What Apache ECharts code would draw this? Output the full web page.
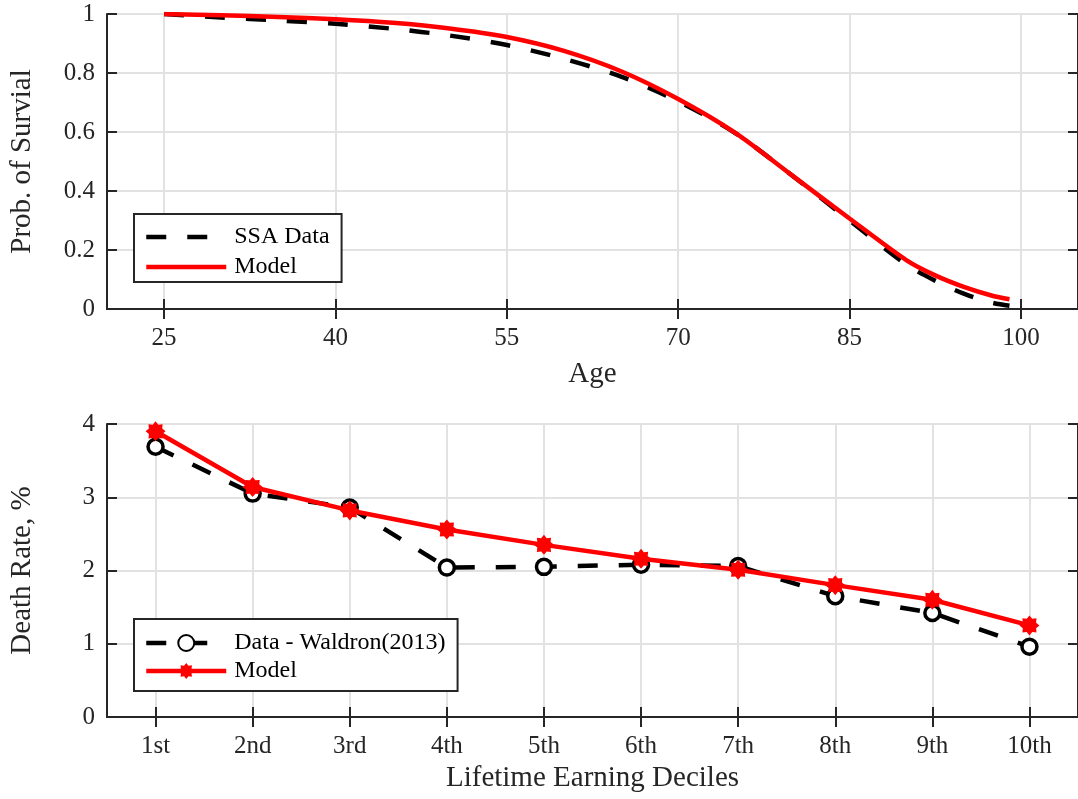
<!DOCTYPE html>
<html><head><meta charset="utf-8">
<script src="https://cdn.jsdelivr.net/npm/echarts@6/dist/echarts.min.js"></script>
<style>html,body{margin:0;padding:0;background:#fff}#c{width:1078px;height:799px}</style>
</head><body><div id="c"></div>
<script>
// ---- Top panel: survival probability by age ----
const ages      = [25, 30, 35, 40, 45, 50, 55, 60, 65, 70, 75, 80, 85, 90, 92.5, 95, 97.5, 99];
const ssaData   = [1.000, 0.988, 0.978, 0.967, 0.950, 0.927, 0.895, 0.848, 0.788, 0.704, 0.596, 0.452, 0.300, 0.150, 0.096, 0.052, 0.021, 0.011];
const modelSurv = [1.000, 0.996, 0.990, 0.982, 0.970, 0.951, 0.922, 0.875, 0.806, 0.712, 0.597, 0.452, 0.307, 0.165, 0.114, 0.075, 0.045, 0.033];
const ageTicks  = [25, 40, 55, 70, 85, 100];

// ---- Bottom panel: death rate by lifetime earning decile ----
const deciles    = ['1st', '2nd', '3rd', '4th', '5th', '6th', '7th', '8th', '9th', '10th'];
const waldron    = [3.69, 3.05, 2.86, 2.04, 2.05, 2.08, 2.06, 1.65, 1.42, 0.96];
const deathModel = [3.90, 3.14, 2.82, 2.56, 2.35, 2.16, 2.01, 1.80, 1.60, 1.25];
const decileIdx  = [1, 2, 3, 4, 5, 6, 7, 8, 9, 10];

const FONT = 'Liberation Serif';
const AX = '#262626';
const GRID = '#e2e2e2';
const TICK_FS = 25;
const NAME_FS = 29;
const LEG_FS = 24;

function starPath(n, R, r) {
  let d = '';
  for (let i = 0; i < 2 * n; i++) {
    const a = Math.PI * i / n - Math.PI / 2;
    const rad = i % 2 === 0 ? R : r;
    const x = 50 + rad * Math.cos(a), y = 50 + rad * Math.sin(a);
    d += (i === 0 ? 'M' : 'L') + x.toFixed(2) + ' ' + y.toFixed(2) + ' ';
  }
  return 'path://' + d + 'Z';
}
const STAR = starPath(8, 50, 36);

const chart = echarts.init(document.getElementById('c'), null, {renderer: 'canvas'});

const tickLabel = {color: AX, fontFamily: FONT, fontSize: TICK_FS};
const nameStyle = {color: AX, fontFamily: FONT, fontSize: NAME_FS};
const axisLine = {show: true, lineStyle: {color: AX, width: 2}};
const axisTickIn = {show: true, inside: true, length: 10, lineStyle: {color: AX, width: 2}};
const splitLine = {show: true, lineStyle: {color: GRID, width: 2}};

const option = {
  animation: false,
  backgroundColor: '#fff',
  grid: [
    {left: 107, top: 14, width: 978, height: 295, containLabel: false},
    {left: 107, top: 424, width: 978, height: 293, containLabel: false}
  ],
  xAxis: [
    {gridIndex: 0, type: 'value', min: 20, max: 105, position: 'bottom',
     name: 'Age', nameLocation: 'middle', nameGap: 51, nameTextStyle: nameStyle,
     axisLine: axisLine, axisTick: Object.assign({}, axisTickIn, {customValues: ageTicks}),
     axisLabel: Object.assign({}, tickLabel, {margin: 17, customValues: ageTicks}),
     splitLine: splitLine},
    {gridIndex: 0, type: 'value', min: 20, max: 105, position: 'top',
     axisLine: axisLine, axisTick: Object.assign({}, axisTickIn, {customValues: ageTicks}),
     axisLabel: {show: false}, splitLine: {show: false}},
    {gridIndex: 1, type: 'value', min: 0.5, max: 10.5, position: 'bottom',
     name: 'Lifetime Earning Deciles', nameLocation: 'middle', nameGap: 47, nameTextStyle: nameStyle,
     axisLine: axisLine, axisTick: Object.assign({}, axisTickIn, {customValues: decileIdx}),
     axisLabel: Object.assign({}, tickLabel, {margin: 17, customValues: decileIdx,
       formatter: v => deciles[Math.round(v) - 1] || ''}),
     splitLine: splitLine},
    {gridIndex: 1, type: 'value', min: 0.5, max: 10.5, position: 'top',
     axisLine: axisLine, axisTick: Object.assign({}, axisTickIn, {customValues: decileIdx}),
     axisLabel: {show: false}, splitLine: {show: false}}
  ],
  yAxis: [
    {gridIndex: 0, type: 'value', min: 0, max: 1, interval: 0.2, position: 'left',
     name: 'Prob. of Survial', nameLocation: 'middle', nameGap: 70, nameRotate: 90, nameTextStyle: nameStyle,
     axisLine: axisLine, axisTick: axisTickIn,
     axisLabel: Object.assign({}, tickLabel, {margin: 12}), splitLine: splitLine},
    {gridIndex: 0, type: 'value', min: 0, max: 1, interval: 0.2, position: 'right',
     axisLine: axisLine, axisTick: axisTickIn, axisLabel: {show: false}, splitLine: {show: false}},
    {gridIndex: 1, type: 'value', min: 0, max: 4, interval: 1, position: 'left',
     name: 'Death Rate, %', nameLocation: 'middle', nameGap: 70, nameRotate: 90, nameTextStyle: nameStyle,
     axisLine: axisLine, axisTick: axisTickIn,
     axisLabel: Object.assign({}, tickLabel, {margin: 12}), splitLine: splitLine},
    {gridIndex: 1, type: 'value', min: 0, max: 4, interval: 1, position: 'right',
     axisLine: axisLine, axisTick: axisTickIn, axisLabel: {show: false}, splitLine: {show: false}}
  ],
  legend: [
    {left: 134, top: 214, orient: 'vertical', selectedMode: false,
     data: [{name: 'SSA Data', itemStyle: {opacity: 0}}, {name: 'Model', itemStyle: {opacity: 0}}],
     backgroundColor: '#fff', borderColor: AX, borderWidth: 2, borderRadius: 0,
     padding: [11, 12, 3, 10], itemWidth: 80, itemHeight: 24, itemGap: 6,
     lineStyle: {width: 4.5},
     textStyle: {color: '#000', fontFamily: FONT, fontSize: LEG_FS, padding: [0, 0, 0, 3]}},
    {left: 134, top: 619, orient: 'vertical', selectedMode: false,
     data: ['Data - Waldron(2013)', 'Model (deciles)'],
     formatter: n => n === 'Model (deciles)' ? 'Model' : n,
     backgroundColor: '#fff', borderColor: AX, borderWidth: 2, borderRadius: 0,
     padding: [12, 12, 8, 10], itemWidth: 80, itemHeight: 20, itemGap: 4,
     lineStyle: {width: 4.5},
     textStyle: {color: '#000', fontFamily: FONT, fontSize: LEG_FS, padding: [0, 0, 0, 3]}}
  ],
  series: [
    {name: 'SSA Data', type: 'line', xAxisIndex: 0, yAxisIndex: 0,
     data: ages.map((a, i) => [a, ssaData[i]]), smooth: 0.3, showSymbol: false, symbol: 'none',
     lineStyle: {color: '#000', width: 4.5, type: [20, 21]}, itemStyle: {color: '#000'}, z: 2},
    {name: 'Model', type: 'line', xAxisIndex: 0, yAxisIndex: 0,
     data: ages.map((a, i) => [a, modelSurv[i]]), smooth: 0.3, showSymbol: false, symbol: 'none',
     lineStyle: {color: '#ff0000', width: 4.5}, itemStyle: {color: '#ff0000'}, z: 3},
    {name: 'Data - Waldron(2013)', type: 'line', xAxisIndex: 2, yAxisIndex: 2,
     data: decileIdx.map((d, i) => [d, waldron[i]]),
     symbol: 'circle', symbolSize: 15,
     lineStyle: {color: '#000', width: 4.5, type: [20, 21]},
     itemStyle: {color: '#fff', borderColor: '#000', borderWidth: 3.5}, z: 2},
    {name: 'Model (deciles)', type: 'line', xAxisIndex: 2, yAxisIndex: 2,
     data: decileIdx.map((d, i) => [d, deathModel[i]]),
     symbol: STAR, symbolSize: 20,
     lineStyle: {color: '#ff0000', width: 4.5},
     itemStyle: {color: '#ff0000'}, z: 3}
  ]
};
chart.setOption(option);
</script>
</body></html>
